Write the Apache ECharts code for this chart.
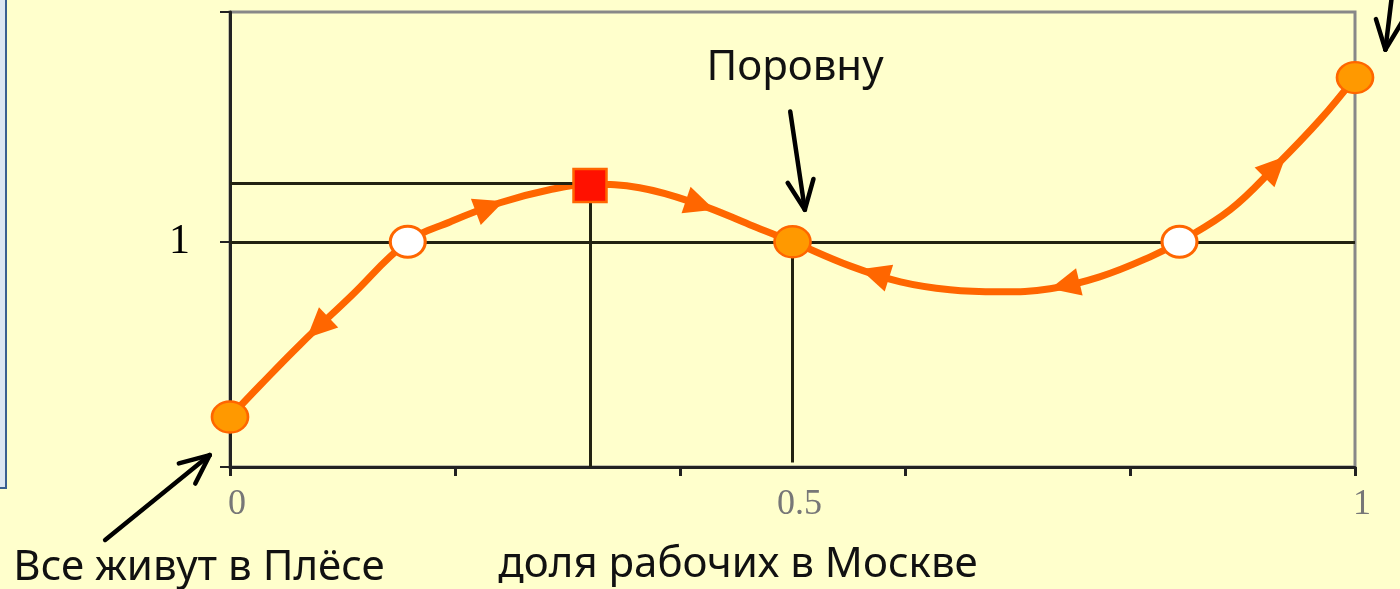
<!DOCTYPE html>
<html><head><meta charset="utf-8">
<script src="https://cdn.jsdelivr.net/npm/echarts@6/dist/echarts.min.js"></script>
<style>html,body{margin:0;padding:0;background:#FFFFCC;}#c{width:1400px;height:589px;}</style>
</head><body><div id="c"></div>
<script>
// Curve: ratio of incomes vs. share of workers in Moscow
const curveX = [0, 0.027, 0.062, 0.107, 0.158, 0.196, 0.24, 0.284, 0.32, 0.364, 0.418, 0.462, 0.5, 0.551, 0.596, 0.64, 0.684, 0.729, 0.773, 0.818, 0.844, 0.889, 0.929, 0.969, 1.0];
const curveY = [0.222, 0.364, 0.542, 0.756, 1.0, 1.089, 1.173, 1.231, 1.255, 1.24, 1.164, 1.076, 1.0, 0.893, 0.822, 0.787, 0.778, 0.791, 0.844, 0.933, 1.0, 1.142, 1.333, 1.542, 1.729];
// stable equilibria (orange), unstable (white), peak (red square)
const stableX = [0, 0.5, 1.0];
const stableY = [0.222, 1.0, 1.729];
const unstableX = [0.158, 0.844];
const unstableY = [1.0, 1.0];
const peakX = 0.32, peakY = 1.26;
// direction arrows on the curve: x position and direction (+1 right, -1 left)
const arrowX = [0.078, 0.231, 0.418, 0.573, 0.742, 0.929];
const arrowDir = [-1, 1, 1, -1, -1, 1];
// tick values
const xTicks = [0, 0.2, 0.4, 0.6, 0.8, 1];
const xLabels = [0, 0.5, 1];
const yMax = 2.02;
const yTicks = [0, 1, yMax];
const yLabels = [1];
// annotation arrows [tailX, tailY, headX, headY] in data units
const noteArrows = [
  [-0.111, -0.324, -0.018, 0.053],
  [0.498, 1.578, 0.511, 1.142],
  [1.033, 2.1, 1.027, 1.853]
];

function interp(x){
  for(let i=0;i<curveX.length-1;i++){
    if(x>=curveX[i] && x<=curveX[i+1]){
      const t=(x-curveX[i])/(curveX[i+1]-curveX[i]);
      return curveY[i]+t*(curveY[i+1]-curveY[i]);
    }
  }
  return curveY[curveY.length-1];
}

const chart = echarts.init(document.getElementById('c'));
const ORANGE = '#FF6600';
const option = {
  backgroundColor: '#FFFFCC',
  animation: false,
  grid: {left: 230, right: 45, top: 12, bottom: 122, show: true, borderColor: '#888', borderWidth: 3, backgroundColor: 'transparent'},
  xAxis: {
    type: 'value', min: 0, max: 1,
    axisLine: {show: true, lineStyle: {color: '#222', width: 3}},
    axisTick: {show: true, customValues: xTicks, length: 9, inside: false, lineStyle: {color: '#222', width: 3}},
    axisLabel: {customValues: xLabels, color: '#777', fontFamily: 'Liberation Serif', fontSize: 36, margin: 20, padding: [0,0,0,14]},
    splitLine: {show: false}
  },
  yAxis: {
    type: 'value', min: 0, max: yMax,
    axisLine: {show: true, lineStyle: {color: '#222', width: 3}},
    axisTick: {show: true, customValues: yTicks, length: 10, lineStyle: {color: '#222', width: 2}},
    axisLabel: {customValues: yLabels, color: '#000', fontFamily: 'Liberation Serif', fontSize: 42, margin: 40, padding: [24,0,0,0]},
    splitLine: {show: false}
  },
  series: [
    {
      type: 'line', smooth: 0.4, symbol: 'none', z: 3,
      data: curveX.map((x,i)=>[x, curveY[i]]),
      lineStyle: {color: ORANGE, width: 7},
      markLine: {
        silent: true, symbol: 'none', label: {show: false},
        lineStyle: {color: '#222211', width: 3, type: 'solid'},
        data: [
          {yAxis: 1},
          [{coord: [0, peakY]}, {coord: [peakX, peakY]}],
          [{coord: [peakX, peakY]}, {coord: [peakX, 0]}],
          [{coord: [0.5, 1]}, {coord: [0.5, 0.02]}]
        ]
      }
    },
    {
      type: 'scatter', z: 5, symbol: 'triangle', symbolSize: [28, 30],
      itemStyle: {color: ORANGE, opacity: 1},
      data: arrowX.map(x=>[x, interp(x)])
    },
    {
      type: 'scatter', z: 6, symbol: 'circle', symbolSize: [36, 31],
      itemStyle: {color: '#FF9900', borderColor: ORANGE, borderWidth: 2.5, opacity: 1},
      data: stableX.map((x,i)=>[x, stableY[i]])
    },
    {
      type: 'scatter', z: 6, symbol: 'circle', symbolSize: [35, 31],
      itemStyle: {color: '#FFFFFF', borderColor: ORANGE, borderWidth: 3, opacity: 1},
      data: unstableX.map((x,i)=>[x, unstableY[i]])
    },
    {
      type: 'scatter', z: 6, symbol: 'rect', symbolSize: [33, 33],
      itemStyle: {color: '#FF1100', borderColor: ORANGE, borderWidth: 2.5, opacity: 1},
      data: [[peakX, peakY - 0.01]]
    }
  ]
};
chart.setOption(option);

// rotate arrow triangles along the curve direction
const rots = arrowX.map((x,i)=>{
  const a = chart.convertToPixel({gridIndex:0},[x-0.01, interp(x-0.01)]);
  const b = chart.convertToPixel({gridIndex:0},[x+0.01, interp(x+0.01)]);
  const dx=(b[0]-a[0])*arrowDir[i], dy=(b[1]-a[1])*arrowDir[i];
  return Math.atan2(-dy, dx)*180/Math.PI - 90;
});

// annotation arrows & text
const graphics = [];
graphics.push({type:'rect', shape:{x:-4, y:-4, width:10, height:492}, style:{fill:'#DCE6F2', stroke:'#3A5F8F', lineWidth:2}, z:10});
noteArrows.forEach(a=>{
  const t = chart.convertToPixel({gridIndex:0},[a[0],a[1]]);
  const h = chart.convertToPixel({gridIndex:0},[a[2],a[3]]);
  const ang = Math.atan2(t[1]-h[1], t[0]-h[0]);
  const L = 32, sp = 0.42;
  graphics.push({type:'line', shape:{x1:t[0],y1:t[1],x2:h[0],y2:h[1]}, style:{stroke:'#000', lineWidth:4.5, lineCap:'round'}, z:20});
  [-sp, sp].forEach(s=>{
    graphics.push({type:'line', shape:{x1:h[0],y1:h[1],x2:h[0]+L*Math.cos(ang+s),y2:h[1]+L*Math.sin(ang+s)}, style:{stroke:'#000', lineWidth:4.5, lineCap:'round'}, z:20});
  });
});
graphics.push({type:'text', x:795, y:68, style:{text:'Поровну', font:'42px "Noto Sans"', fill:'#111', align:'center', verticalAlign:'middle'}, z:20});
graphics.push({type:'text', x:199, y:568, style:{text:'Все живут в Плёсе', font:'42px "Noto Sans"', fill:'#111', align:'center', verticalAlign:'middle'}, z:20});
graphics.push({type:'text', x:738, y:565, style:{text:'доля рабочих в Москве', font:'42px "Noto Sans"', fill:'#111', align:'center', verticalAlign:'middle'}, z:20});

chart.setOption({
  series: [{}, {symbolRotate: (v, p)=>rots[p.dataIndex]}],
  graphic: graphics
});
</script>
</body></html>
